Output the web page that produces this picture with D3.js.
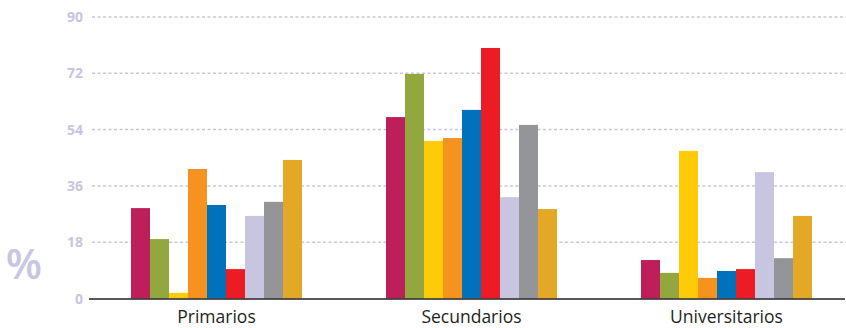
<!DOCTYPE html>
<html><head><meta charset="utf-8">
<script src="https://cdn.jsdelivr.net/npm/d3@7"></script>
<style>body{margin:0;background:#fff}svg{display:block}</style>
</head><body><svg id="c" width="846" height="328"></svg>
<script>
const categories = ["Primarios", "Secundarios", "Universitarios"];
const seriesNames = ["s1","s2","s3","s4","s5","s6","s7","s8","s9"];
const seriesColors = ["#BE1E5A","#93A73F","#FFCB08","#F6921E","#0071BB","#ED1C24","#C8C5E1","#939598","#E2A826"];
const primarios = [28.9, 19.0, 1.8, 41.4, 29.9, 9.4, 26.4, 30.9, 44.3];
const secundarios = [58.0, 71.8, 50.4, 51.3, 60.3, 80.1, 32.4, 55.5, 28.6];
const universitarios = [12.3, 8.2, 47.2, 6.6, 8.8, 9.4, 40.4, 12.9, 26.4];
const tickValues = [0, 18, 36, 54, 72, 90];
const values = [primarios, secundarios, universitarios];

const svg = d3.select("#c");
const y = d3.scaleLinear().domain([0, 90]).range([298.5, 17]);
const x0 = d3.scaleBand().domain(categories).range([131 - 42, 131 - 42 + 255*3]).paddingInner(0).paddingOuter(0);
const x1 = d3.scaleBand().domain(seriesNames).range([42, 42 + 171]).padding(0);

// gridlines
const grid = svg.append("g");
grid.selectAll("line").data(tickValues.filter(d => d > 0)).join("line")
  .attr("x1", 92).attr("x2", 846)
  .attr("y1", d => y(d)).attr("y2", d => y(d))
  .attr("stroke", "#C8C5E1").attr("stroke-width", 1.5)
  .attr("stroke-dasharray", "3,2.5");

// tick labels
svg.append("g").selectAll("text").data(tickValues).join("text")
  .attr("x", 83).attr("y", d => y(d)).attr("dy", "0.36em")
  .attr("text-anchor", "end")
  .attr("font-family", "Open Sans, sans-serif").attr("font-weight", "700")
  .attr("font-size", 14).attr("fill", "#C8C5E1")
  .text(d => d);

// bars
const groups = svg.append("g").selectAll("g").data(categories).join("g")
  .attr("transform", d => `translate(${x0(d)},0)`);
groups.selectAll("rect").data((d, i) => values[i].map((v, j) => ({k: seriesNames[j], v, c: seriesColors[j]})))
  .join("rect")
  .attr("x", d => x1(d.k)).attr("width", x1.bandwidth())
  .attr("y", d => y(d.v)).attr("height", d => y(0) - y(d.v))
  .attr("fill", d => d.c);

// baseline
svg.append("line").attr("x1", 89).attr("x2", 845).attr("y1", 299).attr("y2", 299)
  .attr("stroke", "#231F20").attr("stroke-width", 1.5);

// category labels
svg.append("g").selectAll("text").data(categories).join("text")
  .attr("x", d => x0(d) + 42 + 171/2).attr("y", 323)
  .attr("text-anchor", "middle")
  .attr("font-family", "Open Sans, sans-serif").attr("font-size", 17.5)
  .attr("fill", "#231F20")
  .text(d => d);

// percent sign
svg.append("text").attr("x", 24).attr("y", 279).attr("text-anchor", "middle")
  .attr("font-family", "Open Sans, sans-serif").attr("font-weight", "600").attr("font-size", 42)
  .attr("fill", "#C8C5E1").text("%");
</script></body></html>
